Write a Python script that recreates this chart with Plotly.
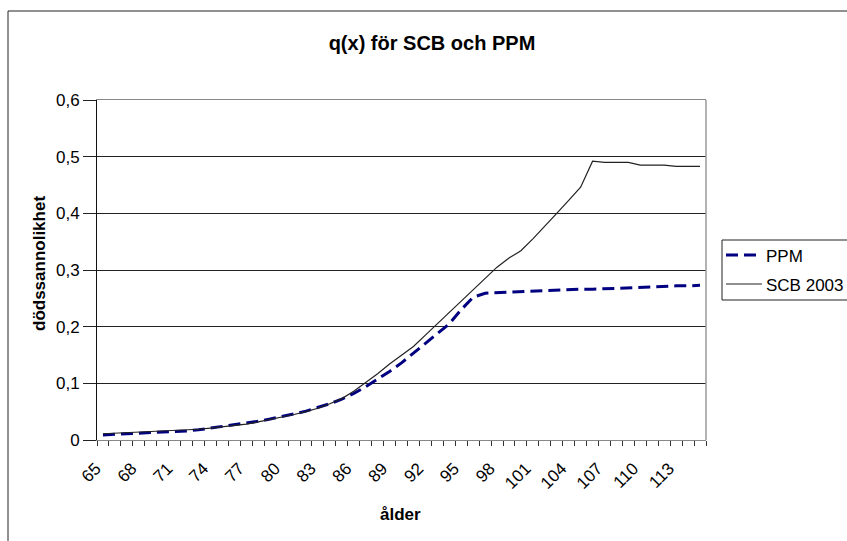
import plotly.graph_objects as go

ages = list(range(65, 116))

scb_2003 = [0.011, 0.012, 0.012, 0.013, 0.014, 0.015, 0.016, 0.017, 0.019, 0.021,
            0.023, 0.026, 0.028, 0.032, 0.036, 0.040, 0.045, 0.050, 0.056, 0.064,
            0.073, 0.086, 0.101, 0.117, 0.134, 0.150, 0.165, 0.185, 0.205, 0.224,
            0.244, 0.264, 0.285, 0.305, 0.321, 0.334, 0.355, 0.377, 0.400, 0.423,
            0.446, 0.492, 0.490, 0.490, 0.490, 0.485, 0.485, 0.485, 0.483, 0.483,
            0.483]

ppm = [0.009, 0.010, 0.011, 0.011, 0.012, 0.013, 0.015, 0.016, 0.018, 0.021,
       0.023, 0.026, 0.029, 0.033, 0.037, 0.041, 0.046, 0.051, 0.057, 0.064,
       0.072, 0.082, 0.094, 0.107, 0.121, 0.136, 0.153, 0.170, 0.187, 0.205,
       0.230, 0.252, 0.259, 0.260, 0.261, 0.262, 0.263, 0.264, 0.265, 0.265,
       0.266, 0.266, 0.267, 0.268, 0.269, 0.270, 0.270, 0.271, 0.272, 0.272,
       0.273]

series_names = ["PPM", "SCB 2003"]
x_tick_vals = list(range(65, 114, 3))
x_tick_text = [str(v) for v in x_tick_vals]
y_tick_vals = [0, 0.1, 0.2, 0.3, 0.4, 0.5, 0.6]
y_tick_text = ["0", "0,1", "0,2", "0,3", "0,4", "0,5", "0,6"]

FONT = "Liberation Sans, Arial, sans-serif"
PPM_LINE = dict(color="#000080", width=3, dash="12px,6px")
SCB_LINE = dict(color="#222222", width=1.2)

fig = go.Figure()
fig.add_trace(go.Scatter(x=ages, y=ppm, name=series_names[0], mode="lines",
                         line=PPM_LINE, showlegend=False))
fig.add_trace(go.Scatter(x=ages, y=scb_2003, name=series_names[1], mode="lines",
                         line=SCB_LINE, showlegend=False))

L, R, T, B = 97, 141, 100, 101
W, H = 847, 541
pw, ph = W - L - R, H - T - B


def px_x(p):
    return (p - L) / pw


def px_y(p):
    return (H - B - p) / ph


# legend box (extends past the right edge, as in the original)
leg_left, leg_top, leg_bottom = 722, 240, 300
leg_rows = [256, 285]
sample_x0, sample_x1, text_x = 726, 762, 764

shapes = [
    dict(type="line", xref="paper", yref="paper", x0=1, x1=1, y0=0, y1=1,
         line=dict(color="#999999", width=1.5), layer="above"),
    dict(type="rect", xref="paper", yref="paper",
         x0=px_x(8), x1=px_x(852), y0=px_y(546), y1=px_y(11),
         line=dict(color="#222222", width=1), layer="below"),
    dict(type="rect", xref="paper", yref="paper",
         x0=px_x(leg_left), x1=px_x(870), y0=px_y(leg_bottom), y1=px_y(leg_top),
         line=dict(color="#222222", width=1), fillcolor="white", layer="above"),
]
annotations = [
    dict(text="<b>dödssannolikhet</b>", xref="paper", yref="paper",
         x=px_x(39), y=px_y(264), textangle=-90, showarrow=False,
         xanchor="center", yanchor="middle", font=dict(size=17, family=FONT)),
    dict(text="<b>ålder</b>", xref="paper", yref="paper",
         x=px_x(400), y=px_y(514), showarrow=False,
         xanchor="center", yanchor="middle", font=dict(size=17, family=FONT)),
]
for name, row, style in zip(series_names, leg_rows, [PPM_LINE, SCB_LINE]):
    shapes.append(dict(type="line", xref="paper", yref="paper",
                       x0=px_x(sample_x0), x1=px_x(sample_x1),
                       y0=px_y(row - 1), y1=px_y(row - 1),
                       line=style, layer="above"))
    annotations.append(dict(text=name, xref="paper", yref="paper",
                            x=px_x(text_x), y=px_y(row), showarrow=False,
                            xanchor="left", yanchor="middle",
                            font=dict(size=17, family=FONT)))

fig.update_layout(
    width=W, height=H,
    margin=dict(l=L, r=R, t=T, b=B, pad=0),
    paper_bgcolor="white", plot_bgcolor="white",
    font=dict(family=FONT, size=17, color="black"),
    title=dict(text="<b>q(x) för SCB och PPM</b>", x=432 / W, xanchor="center",
               y=1 - 43 / H, yanchor="middle", font=dict(size=20, family=FONT)),
    showlegend=False,
    xaxis=dict(
        range=[64.5, 115.5], tickmode="array", tickvals=x_tick_vals, ticktext=x_tick_text,
        tickangle=-45, ticks="", showgrid=False, zeroline=False,
        ticklabelstandoff=11, ticklabelshift=-7,
        showline=True, linecolor="#888888", linewidth=1, mirror=True,
        minor=dict(ticks="outside", tick0=64.5, dtick=1, ticklen=5,
                   tickcolor="#333333", tickwidth=1, showgrid=False),
        tickfont=dict(size=17), fixedrange=True,
    ),
    yaxis=dict(
        range=[0, 0.6], tickmode="array", tickvals=y_tick_vals, ticktext=y_tick_text,
        ticks="outside", ticklen=13, tickcolor="#222222", tickwidth=1,
        showgrid=True, gridcolor="#222222", gridwidth=1, zeroline=False,
        showline=True, linecolor="#111111", linewidth=1,
        tickfont=dict(size=17), fixedrange=True,
    ),
    annotations=annotations,
    shapes=shapes,
)

fig.write_html("out.html")
